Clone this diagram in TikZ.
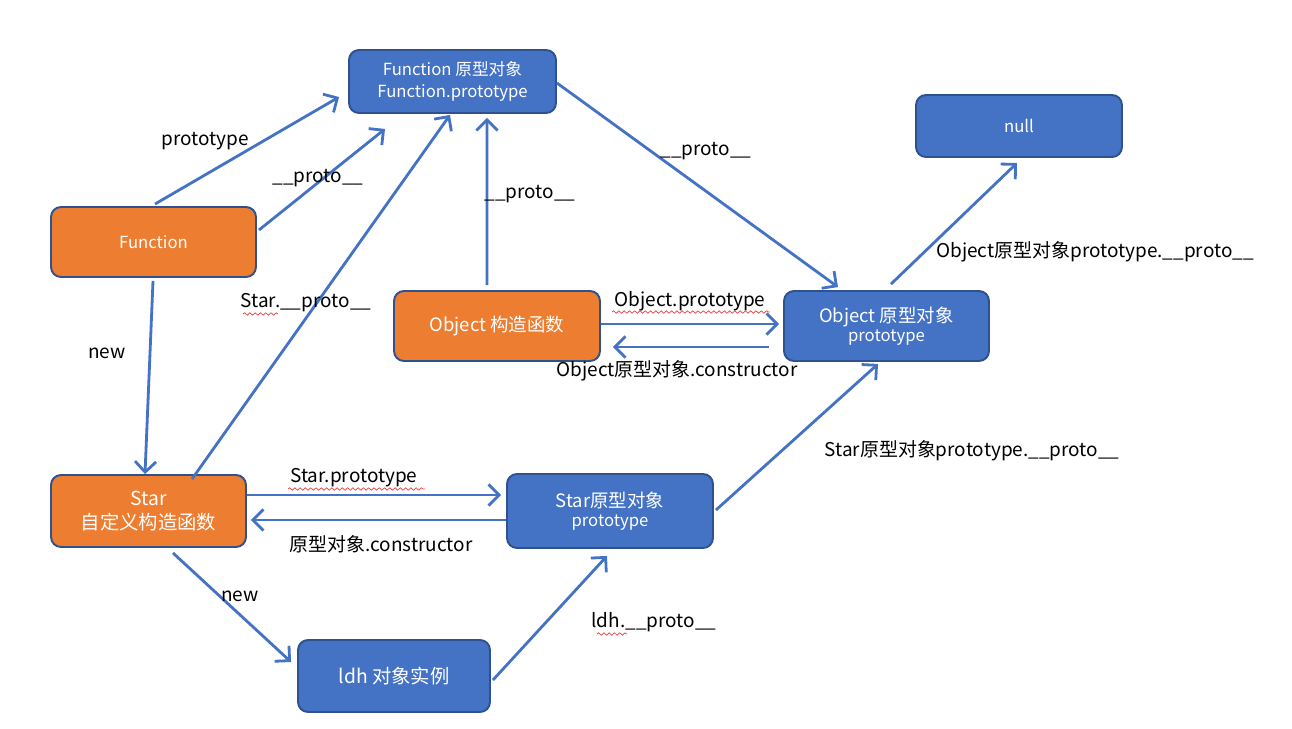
\documentclass[tikz,border=0pt]{standalone}
\usepackage{fontspec}
\setmainfont{Noto Sans CJK SC}
\usetikzlibrary{arrows.meta,calc,decorations.pathmorphing}
\definecolor{boxblue}{HTML}{4472C4}
\definecolor{boxorange}{HTML}{ED7D31}
\definecolor{edgeblue}{HTML}{2F528F}
\definecolor{arrowblue}{HTML}{4472C4}
\definecolor{squig}{HTML}{E84040}
\tikzset{
  box/.style={draw=edgeblue, line width=1.1pt, rounded corners=0.2cm, text=white, align=center, inner sep=0pt},
  bluebox/.style={box, fill=boxblue},
  orangebox/.style={box, fill=boxorange},
  arr/.style={draw=arrowblue, line width=1.6pt, -{Straight Barb[length=6pt,width=12pt,line width=1.6pt]}},
  lbl/.style={font=\fontsize{10.8}{13}\selectfont, text=black, inner sep=0pt},
  nodetext/.style={font=\fontsize{9.5}{12.5}\selectfont},
  bigtext/.style={font=\fontsize{10.5}{13}\selectfont},
  wavy/.style={draw=squig, line width=0.4pt, decorate, decoration={snake, amplitude=0.7, segment length=3}}
}
\begin{document}
\begin{tikzpicture}[x=0.02cm, y=-0.02cm]
\useasboundingbox (0,0) rectangle (1292,728);
% nodes
\node[bluebox, nodetext, minimum width=4.14cm, minimum height=1.26cm] (fproto) at (452.5,81.5) {Function 原型对象\\Function.prototype};
\node[bluebox, nodetext, minimum width=4.12cm, minimum height=1.24cm] (null) at (1019,126) {null};
\node[orangebox, nodetext, minimum width=4.10cm, minimum height=1.40cm] (func) at (153.5,242) {Function};
\node[orangebox, bigtext, minimum width=4.12cm, minimum height=1.40cm] (objc) at (497,326) {Object 构造函数};
\node[bluebox, bigtext, minimum width=4.10cm, minimum height=1.40cm] (oproto) at (886.5,326) {Object 原型对象\\[-2pt]{\fontsize{9.5}{11}\selectfont prototype}};
\node[orangebox, font=\fontsize{11}{14}\selectfont, minimum width=3.90cm, minimum height=1.44cm] (star) at (148.5,511) {Star\\自定义构造函数};
\node[bluebox, bigtext, minimum width=4.12cm, minimum height=1.48cm] (sproto) at (610,511) {Star原型对象\\[-2pt]{\fontsize{9.5}{11}\selectfont prototype}};
\node[bluebox, font=\fontsize{11}{14}\selectfont, minimum width=3.84cm, minimum height=1.44cm] (ldh) at (394,676) {ldh 对象实例};
% connectors
\draw[arr] ($(func.north)+(1.5,-2)$) -- ($(fproto.west)+(-9,15.5)$);
\draw[arr] ($(func.east)+(2,-12)$) -- ($(fproto.south)+(-67.5,15)$);
\draw[arr] ($(func.south)+(-0.5,3)$) -- ($(star.north)+(-3.5,0)$);
\draw[arr] ($(star.north)+(43.5,5)$) -- ($(fproto.south)+(-2.5,1)$);
\draw[arr] ($(objc.north)+(-10,-5)$) -- ($(fproto.south)+(34.5,4)$);
\draw[arr] ($(fproto.east)+(0,1.5)$) -- ($(oproto.north)+(-48.5,-3)$);
\draw[arr] ($(oproto.north)+(4.5,-6)$) -- ($(null.south)+(-2,5)$);
\draw[arr] ($(objc.east)+(0,-2)$) -- ($(oproto.west)+(-4,-2)$);
\draw[arr] ($(oproto.west)+(-14,21)$) -- ($(objc.east)+(12,21)$);
\draw[arr] ($(star.east)+(0,-16)$) -- ($(sproto.west)+(-5,-16)$);
\draw[arr] ($(sproto.west)+(0,9)$) -- ($(star.east)+(4,9)$);
\draw[arr] ($(sproto.east)+(2,-1)$) -- ($(oproto.south)+(-8.5,2)$);
\draw[arr] ($(star.south)+(24.5,5)$) -- ($(ldh.west)+(-6,-14)$);
\draw[arr] ($(ldh.east)+(2,4)$) -- ($(sproto.south)+(-3,7)$);
% labels
\node[lbl] (l1) at (205,141) {prototype};
\node[lbl] (l2) at (318,178) {\_\_proto\_\_};
\node[lbl] (l3) at (107,353) {new};
\node[lbl] (l4) at (306,303) {Star.\_\_proto\_\_};
\node[lbl] (l5) at (530,194) {\_\_proto\_\_};
\node[lbl] (l6) at (706,151) {\_\_proto\_\_};
\node[lbl] (l7) at (1095,252) {Object原型对象prototype.\_\_proto\_\_};
\node[lbl] (l8) at (690,301) {Object.prototype};
\node[lbl] (l9) at (677,371) {Object原型对象.constructor};
\node[lbl] (l10) at (354,478) {Star.prototype};
\node[lbl] (l11) at (381,544) {原型对象.constructor};
\node[lbl] (l12) at (972,451) {Star原型对象prototype.\_\_proto\_\_};
\node[lbl] (l13) at (240,596) {new};
\node[lbl] (l14) at (654,622) {ldh.\_\_proto\_\_};
% spell-check squiggles
\draw[wavy] (243,314) -- (278,314);
\draw[wavy] (612,312) -- (770,312);
\draw[wavy] (288,489) -- (425,489);
\draw[wavy] (597,634) -- (627,634);
\end{tikzpicture}
\end{document}
